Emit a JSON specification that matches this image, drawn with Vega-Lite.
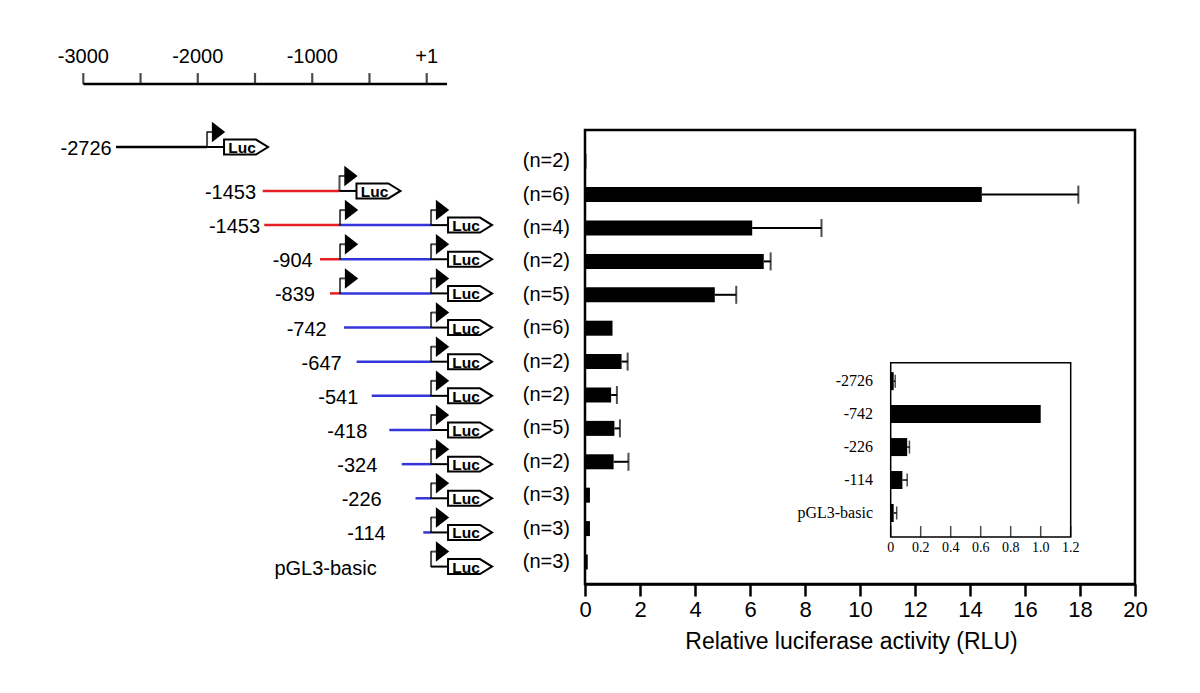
{
  "$schema": "https://vega.github.io/schema/vega-lite/v6.json",
  "width": 550,
  "height": 454,
  "autosize": {"type": "none"},
  "padding": {"left": 585, "top": 130, "right": 65, "bottom": 109},
  "background": "white",
  "config": {"view": {"stroke": "black", "strokeWidth": 2.5}, "font": "Liberation Sans"},
  "datasets": {
    "main": [
      {"row": 1, "n": "(n=2)", "value": 0.05, "err": null},
      {"row": 2, "n": "(n=6)", "value": 14.43, "err": 17.94},
      {"row": 3, "n": "(n=4)", "value": 6.08, "err": 8.6},
      {"row": 4, "n": "(n=2)", "value": 6.5, "err": 6.75},
      {"row": 5, "n": "(n=5)", "value": 4.72, "err": 5.5},
      {"row": 6, "n": "(n=6)", "value": 1.0, "err": null},
      {"row": 7, "n": "(n=2)", "value": 1.33, "err": 1.55},
      {"row": 8, "n": "(n=2)", "value": 0.95, "err": 1.16},
      {"row": 9, "n": "(n=5)", "value": 1.07, "err": 1.27},
      {"row": 10, "n": "(n=2)", "value": 1.04, "err": 1.58},
      {"row": 11, "n": "(n=3)", "value": 0.18, "err": null},
      {"row": 12, "n": "(n=3)", "value": 0.18, "err": null},
      {"row": 13, "n": "(n=3)", "value": 0.1, "err": null}
    ],
    "inset": [
      {"irow": 1, "label": "-2726", "value": 0.02, "err": 0.03},
      {"irow": 2, "label": "-742", "value": 1.0, "err": null},
      {"irow": 3, "label": "-226", "value": 0.11, "err": 0.125},
      {"irow": 4, "label": "-114", "value": 0.078, "err": 0.11},
      {"irow": 5, "label": "pGL3-basic", "value": 0.02, "err": 0.04}
    ],
    "insetFrame": [{"value": 0, "end": 1.2, "irow": 0.445, "irow2": 5.727}],
    "insetTicks": [
      {"value": 0, "irow": 5.727, "label": "0"},
      {"value": 0.2, "irow": 5.727, "label": "0.2"},
      {"value": 0.4, "irow": 5.727, "label": "0.4"},
      {"value": 0.6, "irow": 5.727, "label": "0.6"},
      {"value": 0.8, "irow": 5.727, "label": "0.8"},
      {"value": 1.0, "irow": 5.727, "label": "1.0"},
      {"value": 1.2, "irow": 5.727, "label": "1.2"}
    ],
    "ruler": [{"pos": -3000, "end": 177, "track": -1.13}],
    "rulerTicks": [
      {"pos": -3000, "track": -1.13, "label": "-3000"},
      {"pos": -2500, "track": -1.13, "label": ""},
      {"pos": -2000, "track": -1.13, "label": "-2000"},
      {"pos": -1500, "track": -1.13, "label": ""},
      {"pos": -1000, "track": -1.13, "label": "-1000"},
      {"pos": -500, "track": -1.13, "label": ""},
      {"pos": 0, "track": -1.13, "label": "+1"}
    ],
    "segments": [
      {"track": 0.713, "pos": -2714, "end": -1919, "region": "full"},
      {"track": 2, "pos": -1433, "end": -762, "region": "distal"},
      {"track": 3, "pos": -1419, "end": -757, "region": "distal"},
      {"track": 3, "pos": -757, "end": 38, "region": "proximal"},
      {"track": 4, "pos": -932, "end": -757, "region": "distal"},
      {"track": 4, "pos": -757, "end": 38, "region": "proximal"},
      {"track": 5, "pos": -845, "end": -757, "region": "distal"},
      {"track": 5, "pos": -757, "end": 38, "region": "proximal"},
      {"track": 6, "pos": -722, "end": 38, "region": "proximal"},
      {"track": 7, "pos": -612, "end": 38, "region": "proximal"},
      {"track": 8, "pos": -480, "end": 38, "region": "proximal"},
      {"track": 9, "pos": -327, "end": 38, "region": "proximal"},
      {"track": 10, "pos": -218, "end": 38, "region": "proximal"},
      {"track": 11, "pos": -98, "end": 38, "region": "proximal"},
      {"track": 12, "pos": -30, "end": 38, "region": "proximal"}
    ],
    "promoters": [
      {"track": 0.713, "pos": -1919, "luc": true},
      {"track": 2, "pos": -762, "luc": true},
      {"track": 3, "pos": -757, "luc": false},
      {"track": 3, "pos": 38, "luc": true},
      {"track": 4, "pos": -757, "luc": false},
      {"track": 4, "pos": 38, "luc": true},
      {"track": 5, "pos": -757, "luc": false},
      {"track": 5, "pos": 38, "luc": true},
      {"track": 6, "pos": 38, "luc": true},
      {"track": 7, "pos": 38, "luc": true},
      {"track": 8, "pos": 38, "luc": true},
      {"track": 9, "pos": 38, "luc": true},
      {"track": 10, "pos": 38, "luc": true},
      {"track": 11, "pos": 38, "luc": true},
      {"track": 12, "pos": 38, "luc": true},
      {"track": 13, "pos": 38, "luc": true}
    ],
    "labels": [
      {"track": 0.713, "pos": -2752, "label": "-2726"},
      {"track": 2, "pos": -1491, "label": "-1453"},
      {"track": 3, "pos": -1456, "label": "-1453"},
      {"track": 4, "pos": -996, "label": "-904"},
      {"track": 5, "pos": -976, "label": "-839"},
      {"track": 6, "pos": -874, "label": "-742"},
      {"track": 7, "pos": -743, "label": "-647"},
      {"track": 8, "pos": -598, "label": "-541"},
      {"track": 9, "pos": -519, "label": "-418"},
      {"track": 10, "pos": -432, "label": "-324"},
      {"track": 11, "pos": -393, "label": "-226"},
      {"track": 12, "pos": -358, "label": "-114"},
      {"track": 13, "pos": -437, "label": "pGL3-basic"}
    ]
  },
  "layer": [
    {
      "data": {"name": "main"},
      "encoding": {
        "x": {
          "field": "value", "type": "quantitative",
          "scale": {"domain": [0, 20], "nice": false, "zero": false},
          "axis": {
            "values": [0, 2, 4, 6, 8, 10, 12, 14, 16, 18, 20],
            "grid": false, "tickSize": 12, "tickWidth": 2.5, "tickColor": "black",
            "domainColor": "black", "domainWidth": 2.5,
            "labelFontSize": 22, "labelColor": "black", "labelPadding": 3, "labelFlush": false,
            "title": "Relative luciferase activity (RLU)", "titleFontSize": 23,
            "titleFontWeight": "normal", "titleColor": "black", "titlePadding": 10,
            "titleX": 266, "titleAlign": "center", "titleAnchor": "middle"
          }
        },
        "y": {
          "field": "row", "type": "quantitative",
          "scale": {"domain": [0.215, 13.51], "reverse": true, "nice": false, "zero": false},
          "axis": null
        }
      },
      "layer": [
        {"mark": {"type": "bar", "orient": "horizontal", "size": 15, "color": "black"}},
        {
          "transform": [{"filter": "datum.err != null"}],
          "mark": {"type": "rule", "strokeWidth": 2, "color": "black"},
          "encoding": {"x2": {"field": "err"}}
        },
        {
          "transform": [{"filter": "datum.err != null"}],
          "mark": {"type": "tick", "orient": "vertical", "size": 18, "thickness": 2, "color": "black"},
          "encoding": {"x": {"field": "err", "type": "quantitative"}}
        },
        {
          "mark": {"type": "text", "align": "right", "baseline": "middle", "dx": -15, "fontSize": 20, "color": "black"},
          "encoding": {"x": {"datum": 0, "type": "quantitative"}, "text": {"field": "n"}}
        }
      ]
    },
    {
      "encoding": {
        "x": {
          "field": "pos", "type": "quantitative",
          "scale": {"domain": [1382.9, 6187.8], "nice": false, "zero": false},
          "axis": null
        },
        "y": {
          "field": "track", "type": "quantitative",
          "scale": {"domain": [0.215, 13.51], "reverse": true, "nice": false, "zero": false},
          "axis": null
        }
      },
      "layer": [
        {
          "data": {"name": "ruler"},
          "mark": {"type": "rule", "strokeWidth": 2.5, "color": "black"},
          "encoding": {"x2": {"field": "end"}}
        },
        {
          "data": {"name": "rulerTicks"},
          "mark": {"type": "tick", "orient": "vertical", "size": 11, "thickness": 2.2, "color": "black", "yOffset": -5.5}
        },
        {
          "data": {"name": "rulerTicks"},
          "transform": [{"filter": "datum.label != ''"}],
          "mark": {"type": "text", "fontSize": 20, "dy": -26.6, "baseline": "middle", "align": "center", "color": "black"},
          "encoding": {"text": {"field": "label"}}
        },
        {
          "data": {"name": "segments"},
          "mark": {"type": "rule", "strokeWidth": 2.5},
          "encoding": {
            "x2": {"field": "end"},
            "color": {
              "field": "region", "type": "nominal",
              "scale": {"domain": ["full", "distal", "proximal"], "range": ["black", "#e51f24", "#3535dc"]},
              "legend": null
            }
          }
        },
        {
          "data": {"name": "promoters"},
          "transform": [{"filter": "datum.luc"}],
          "mark": {"type": "rule", "strokeWidth": 2, "color": "black", "x2Offset": 17},
          "encoding": {"x2": {"field": "pos"}}
        },
        {
          "data": {"name": "promoters"},
          "mark": {"type": "tick", "orient": "vertical", "size": 16, "thickness": 2, "color": "black", "yOffset": -7.5}
        },
        {
          "data": {"name": "promoters"},
          "mark": {"type": "tick", "orient": "horizontal", "size": 6, "thickness": 2, "color": "black", "xOffset": 3, "yOffset": -15}
        },
        {
          "data": {"name": "promoters"},
          "mark": {"type": "point", "shape": "M-0.65,-1L0.65,0L-0.65,1Z", "size": 420, "filled": true, "color": "black", "opacity": 1, "xOffset": 11.5, "yOffset": -15}
        },
        {
          "data": {"name": "promoters"},
          "transform": [{"filter": "datum.luc"}],
          "mark": {"type": "point", "shape": "M-1,-0.34L0.45,-0.34L1,0L0.45,0.34L-1,0.34Z", "size": 1936, "filled": true, "fill": "white", "stroke": "black", "strokeWidth": 2, "opacity": 1, "fillOpacity": 1, "xOffset": 39}
        },
        {
          "data": {"name": "promoters"},
          "transform": [{"filter": "datum.luc"}],
          "mark": {"type": "text", "text": "Luc", "fontSize": 15.5, "fontWeight": "bold", "xOffset": 35, "dy": 1, "align": "center", "baseline": "middle", "color": "black"}
        },
        {
          "data": {"name": "labels"},
          "mark": {"type": "text", "align": "right", "baseline": "middle", "fontSize": 20, "dy": 2, "color": "black"},
          "encoding": {"text": {"field": "label"}}
        }
      ]
    },
    {
      "encoding": {
        "x": {
          "field": "value", "type": "quantitative",
          "scale": {"domain": [-2.038, 1.6287], "nice": false, "zero": false},
          "axis": null
        },
        "y": {
          "field": "irow", "type": "quantitative",
          "scale": {"domain": [-6.469, 7.003], "reverse": true, "nice": false, "zero": false},
          "axis": null
        }
      },
      "layer": [
        {
          "data": {"name": "insetFrame"},
          "mark": {"type": "rect", "filled": false, "stroke": "black", "strokeWidth": 1.5},
          "encoding": {"x2": {"field": "end"}, "y2": {"field": "irow2"}}
        },
        {
          "data": {"name": "inset"},
          "mark": {"type": "bar", "orient": "horizontal", "size": 18, "color": "black"}
        },
        {
          "data": {"name": "inset"},
          "transform": [{"filter": "datum.err != null"}],
          "mark": {"type": "rule", "strokeWidth": 1.5, "color": "black"},
          "encoding": {"x2": {"field": "err"}}
        },
        {
          "data": {"name": "inset"},
          "transform": [{"filter": "datum.err != null"}],
          "mark": {"type": "tick", "orient": "vertical", "size": 13, "thickness": 1.5, "color": "black"},
          "encoding": {"x": {"field": "err", "type": "quantitative"}}
        },
        {
          "data": {"name": "inset"},
          "mark": {"type": "text", "align": "right", "baseline": "middle", "dx": -17.7, "fontSize": 16, "font": "Liberation Serif", "color": "black"},
          "encoding": {"x": {"datum": 0, "type": "quantitative"}, "text": {"field": "label"}}
        },
        {
          "data": {"name": "insetTicks"},
          "mark": {"type": "tick", "orient": "vertical", "size": 11, "thickness": 1.5, "color": "black", "yOffset": -5.5}
        },
        {
          "data": {"name": "insetTicks"},
          "mark": {"type": "text", "align": "center", "baseline": "middle", "dy": 11, "fontSize": 14, "font": "Liberation Serif", "color": "black"},
          "encoding": {"text": {"field": "label"}}
        }
      ]
    }
  ],
  "resolve": {"scale": {"x": "independent", "y": "independent"}}
}
